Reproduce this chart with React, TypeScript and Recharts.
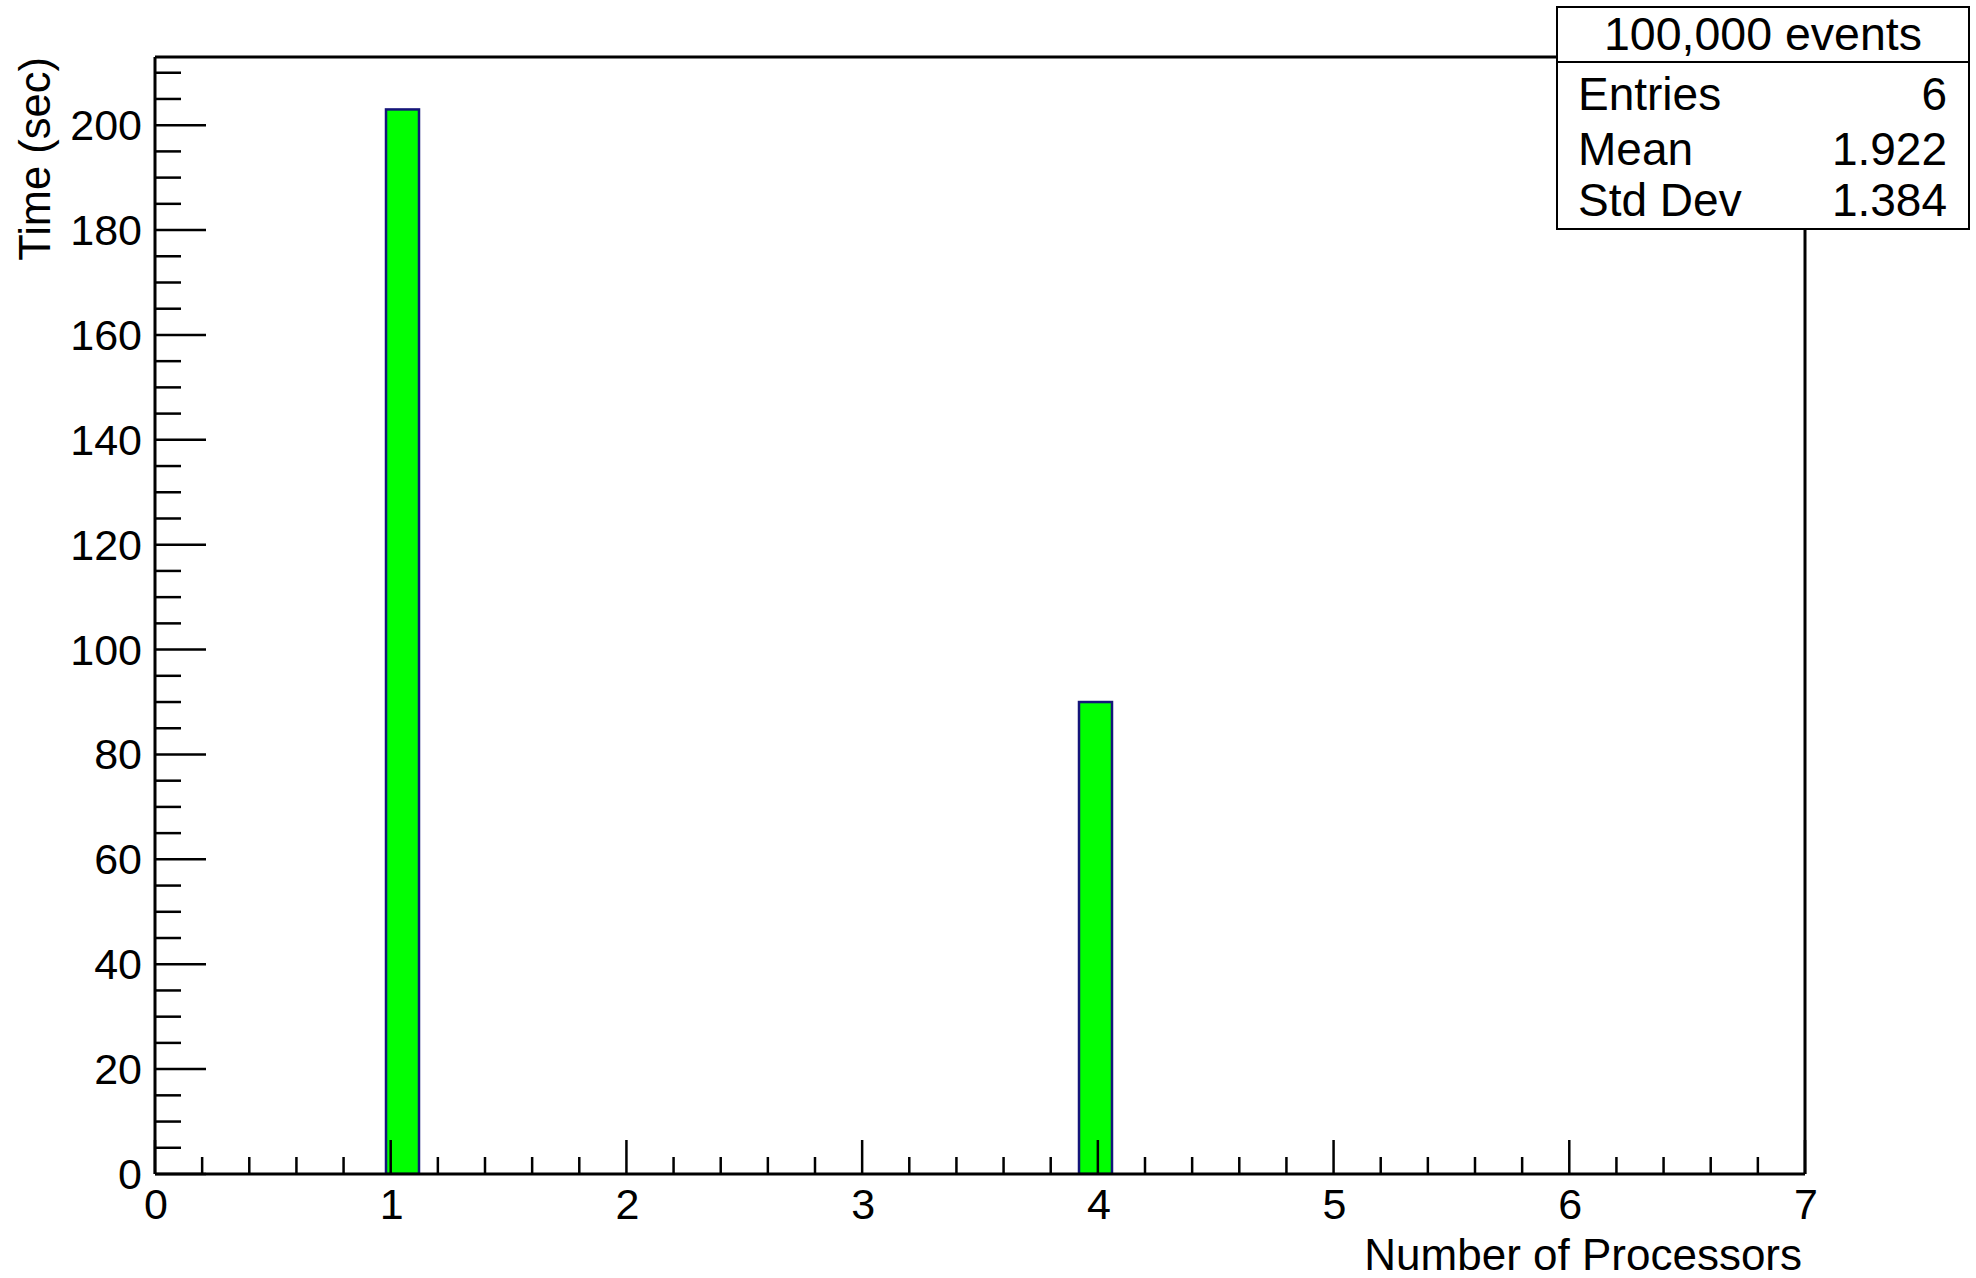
import { Bar, BarChart, XAxis, YAxis } from "recharts";

const FONT = '"Liberation Sans", Arial, Helvetica, sans-serif';

// histogram: 50 bins on [0, 7], only two bins are filled
const BIN_COUNT = 50;
const X_MIN = 0;
const X_MAX = 7;
const filledBins = [7, 28]; // bins around 1 and 4 processors
const timeSec = [203, 90];

const xMajorTicks = [0, 1, 2, 3, 4, 5, 6, 7];
const yMajorTicks = [0, 20, 40, 60, 80, 100, 120, 140, 160, 180, 200];

const statsTitle = "100,000 events";
const statsLabels = ["Entries", "Mean", "Std Dev"];
const statsValues = ["6", "1.922", "1.384"];

const W = 1976;
const H = 1278;
// axes are 1px thick boxes (recharts skips 0-sized axes)
const M = { top: 56, left: 154, right: 170, bottom: 103 };
const Y_MAX = 213;

const binWidth = (X_MAX - X_MIN) / BIN_COUNT;
const histData = Array.from({ length: BIN_COUNT }, (_, i) => {
  const k = filledBins.indexOf(i);
  return { bin: i, x: X_MIN + (i + 0.5) * binWidth, time: k >= 0 ? timeSec[k] : 0 };
});

// minor ticks: 5 divisions per major on x, every 5 s on y
const xTicks: number[] = [];
xMajorTicks.forEach((t, i) => {
  xTicks.push(t);
  if (i < xMajorTicks.length - 1) for (let j = 1; j < 5; j++) xTicks.push(t + j / 5);
});
const yTicks: number[] = [];
for (let v = 0; v <= Y_MAX; v += 5) yTicks.push(v);

const isInt = (v: number) => Math.abs(v - Math.round(v)) < 1e-6;

function XTick({ x, y, payload }: any) {
  const v = payload.value as number;
  const major = isInt(v);
  return (
    <g>
      <line x1={x} x2={x} y1={y} y2={y - (major ? 34 : 17)} stroke="#000" strokeWidth={2.5} />
      {major && (
        <text x={x + 1} y={y + 45} textAnchor="middle" fontSize={43} fontFamily={FONT} fill="#000">
          {Math.round(v)}
        </text>
      )}
    </g>
  );
}

function YTick({ x, y, payload }: any) {
  const v = payload.value as number;
  const major = yMajorTicks.includes(v);
  return (
    <g>
      <line x1={x} x2={x + (major ? 51 : 26)} y1={y} y2={y} stroke="#000" strokeWidth={2.5} />
      {major && (
        <text x={x - 13} y={y + 15} textAnchor="end" fontSize={43} fontFamily={FONT} fill="#000">
          {v}
        </text>
      )}
    </g>
  );
}

function HistBar(props: any) {
  const { x, y, width, height } = props;
  if (!height || height <= 0) return <g />;
  return <rect x={x} y={y} width={width} height={height} fill="#00ff00" stroke="#15157a" strokeWidth={2.5} />;
}

const statsBaselines = [110, 165, 216];

export default function App() {
  return (
    <div style={{ position: "absolute", left: 0, top: 0, width: W, height: H, background: "#fff", fontFamily: FONT }}>
      <BarChart width={W} height={H} data={histData} margin={M} barCategoryGap={0} barGap={0}>
        <XAxis xAxisId="bins" dataKey="bin" type="category" hide height={0} />
        <XAxis
          xAxisId="num"
          dataKey="x"
          type="number"
          domain={[X_MIN, X_MAX]}
          allowDataOverflow
          ticks={xTicks}
          interval={0}
          height={1}
          tickSize={0}
          tickMargin={0}
          tickLine={false}
          tick={<XTick />}
          axisLine={{ stroke: "#000", strokeWidth: 3 }}
        />
        <XAxis
          xAxisId="top"
          orientation="top"
          dataKey="x"
          type="number"
          domain={[X_MIN, X_MAX]}
          allowDataOverflow
          height={1}
          tick={false}
          tickLine={false}
          axisLine={{ stroke: "#000", strokeWidth: 3 }}
        />
        <YAxis
          yAxisId="left"
          type="number"
          domain={[0, Y_MAX]}
          allowDataOverflow
          ticks={yTicks}
          interval={0}
          width={1}
          tickSize={0}
          tickMargin={0}
          tickLine={false}
          tick={<YTick />}
          axisLine={{ stroke: "#000", strokeWidth: 3 }}
        />
        <YAxis
          yAxisId="right"
          orientation="right"
          type="number"
          domain={[0, Y_MAX]}
          allowDataOverflow
          width={1}
          tick={false}
          tickLine={false}
          axisLine={{ stroke: "#000", strokeWidth: 3 }}
        />
        <Bar xAxisId="bins" yAxisId="left" dataKey="time" shape={<HistBar />} isAnimationActive={false} />
      </BarChart>

      <svg width={W} height={H} style={{ position: "absolute", left: 0, top: 0, pointerEvents: "none" }}>
        <text x={1802} y={1270} textAnchor="end" fontSize={44} fontFamily={FONT} fill="#000">
          Number of Processors
        </text>
        <text x={50} y={57} transform="rotate(-90 50 57)" textAnchor="end" fontSize={43.5} fontFamily={FONT} fill="#000">
          Time (sec)
        </text>

        <rect x={1557} y={7} width={412} height={222} fill="#fff" stroke="#000" strokeWidth={2} />
        <line x1={1557} x2={1969} y1={62} y2={62} stroke="#000" strokeWidth={2} />
        <text x={1763} y={50} textAnchor="middle" fontSize={46.5} fontFamily={FONT} fill="#000">
          {statsTitle}
        </text>
        {statsLabels.map((lab, i) => (
          <g key={lab}>
            <text x={1578} y={statsBaselines[i]} fontSize={46} fontFamily={FONT} fill="#000">
              {lab}
            </text>
            <text x={1947} y={statsBaselines[i]} textAnchor="end" fontSize={46} fontFamily={FONT} fill="#000">
              {statsValues[i]}
            </text>
          </g>
        ))}
      </svg>
    </div>
  );
}
